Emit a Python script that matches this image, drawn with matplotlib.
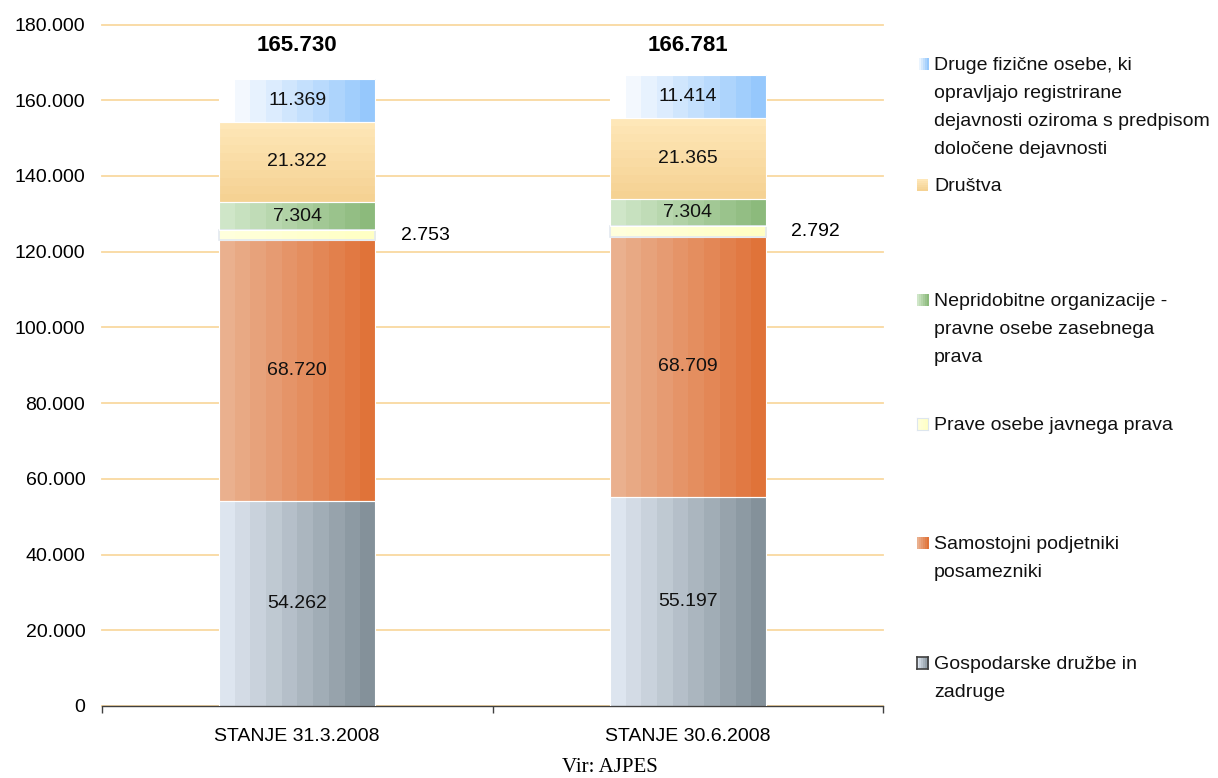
import matplotlib.pyplot as plt
import numpy as np
from matplotlib.colors import to_rgb
from matplotlib.ticker import FuncFormatter, FixedLocator

plt.rcParams['font.family'] = ['Liberation Sans', 'DejaVu Sans']

categories = ['STANJE 31.3.2008', 'STANJE 30.6.2008']

# stacked from bottom to top
gospodarske = [54262, 55197]
samostojni = [68720, 68709]
prave = [2753, 2792]
nepridobitne = [7304, 7304]
drustva = [21322, 21365]
druge = [11369, 11414]
totals = [165730, 166781]

labels = [
    'Gospodarske družbe in\nzadruge',
    'Samostojni podjetniki\nposamezniki',
    'Prave osebe javnega prava',
    'Nepridobitne organizacije -\npravne osebe zasebnega\nprava',
    'Društva',
    'Druge fizične osebe, ki\nopravljajo registrirane\ndejavnosti oziroma s predpisom\ndoločene dejavnosti',
]

# (left/top colour, right/bottom colour, vertical gradient?)
styles = [
    ('#dde5ef', '#84919a', False),
    ('#eab08e', '#e0733a', False),
    ('#ffffdc', '#ffffc4', False),
    ('#cfe6c8', '#8cba7c', False),
    ('#fee7b8', '#f5d293', True),
    ('#ffffff', '#96c8fc', False),
]

legend_y = [663, 543, 424, 300, 185, 64]  # first-line centre, pixels from top


def gradient(c1, c2, n=10, vertical=False):
    a, b = np.array(to_rgb(c1)), np.array(to_rgb(c2))
    t = np.linspace(0, 1, n)[:, None]
    g = a + (b - a) * t
    return g[:, None, :] if vertical else g[None, :, :]


def fmt(v):
    return f'{int(v):,}'.replace(',', '.')


W, H = 1218, 778
fig = plt.figure(figsize=(W / 100, H / 100), dpi=100)
fig.patch.set_facecolor('white')
ax = fig.add_axes([102 / W, 1 - 706 / H, (883 - 102) / W, (706 - 24.5) / H])

x = np.arange(len(categories))
width = 0.40
series = [gospodarske, samostojni, prave, nepridobitne, drustva, druge]
bottom = np.zeros(len(categories))

for i, vals in enumerate(series):
    c1, c2, vert = styles[i]
    edge = '#e3e9f0' if i == 2 else 'white'
    bars = ax.bar(x, vals, width, bottom=bottom, color='none',
                  edgecolor=edge, lw=1.2 if i == 2 else 0.8, zorder=3)
    for j, rect in enumerate(bars):
        x0, y0 = rect.get_x(), rect.get_y()
        im = ax.imshow(gradient(c1, c2, 10, vert),
                       extent=[x0, x0 + rect.get_width(), y0, y0 + rect.get_height()],
                       aspect='auto', interpolation='nearest', origin='upper', zorder=2)
        im.set_clip_path(rect)
        if i == 2:
            ax.text(x0 + rect.get_width() + 0.065, y0 + vals[j] / 2, fmt(vals[j]),
                    ha='left', va='center', fontsize=14, color='black', zorder=4)
        else:
            ax.text(x[j], y0 + vals[j] / 2, fmt(vals[j]),
                    ha='center', va='center', fontsize=14, color='#111111', zorder=4)
    bottom += np.array(vals)

# totals sit on one line above the bars, as in the original
for j, t in enumerate(totals):
    ax.text(x[j], 174400, fmt(t), ha='center', va='center',
            fontsize=16, fontweight='bold')

ax.set_xlim(-0.5, 1.5)
ax.set_ylim(0, 180000)
ax.set_yticks(np.arange(0, 180001, 20000))
ax.yaxis.set_major_formatter(FuncFormatter(lambda v, p: fmt(v)))
ax.tick_params(axis='y', length=0, pad=12, labelsize=14)
ax.set_xticks(x)
ax.set_xticklabels(categories)
ax.xaxis.set_minor_locator(FixedLocator([-0.5, 0.5, 1.5]))
ax.tick_params(axis='x', which='major', length=0, pad=16, labelsize=14)
ax.tick_params(axis='x', which='minor', length=5, width=1, color='#404040')

ax.grid(axis='y', color='#f9d9a0', lw=1.3)
ax.set_axisbelow(True)
for gl in ax.get_ygridlines():
    gl.set_clip_on(False)
for s in ['top', 'right', 'left']:
    ax.spines[s].set_visible(False)
ax.spines['bottom'].set_color('#404040')
ax.spines['bottom'].set_linewidth(1.0)

# legend, placed by hand like the original
for i, lab in enumerate(labels):
    yc = legend_y[i]
    c1, c2, vert = styles[i]
    lax = fig.add_axes([917 / W, 1 - (yc + 6) / H, 11 / W, 12 / H])
    lax.imshow(gradient(c1, c2, 6, vert), aspect='auto', interpolation='nearest')
    lax.set_xticks([])
    lax.set_yticks([])
    for sp in lax.spines.values():
        if i == 0:
            sp.set_color('#404040')
            sp.set_linewidth(1.2)
        elif i == 2:
            sp.set_color('#dde6ee')
        else:
            sp.set_visible(False)
    fig.text(934 / W, 1 - (yc - 7) / H, lab, ha='left', va='top',
             fontsize=14, linespacing=1.85, color='#111111')

fig.text(610 / W, 1 - 767 / H, 'Vir: AJPES', ha='center', va='center',
         fontsize=15, family=['Liberation Serif', 'DejaVu Serif'])

fig.savefig('out.png', dpi=100)
